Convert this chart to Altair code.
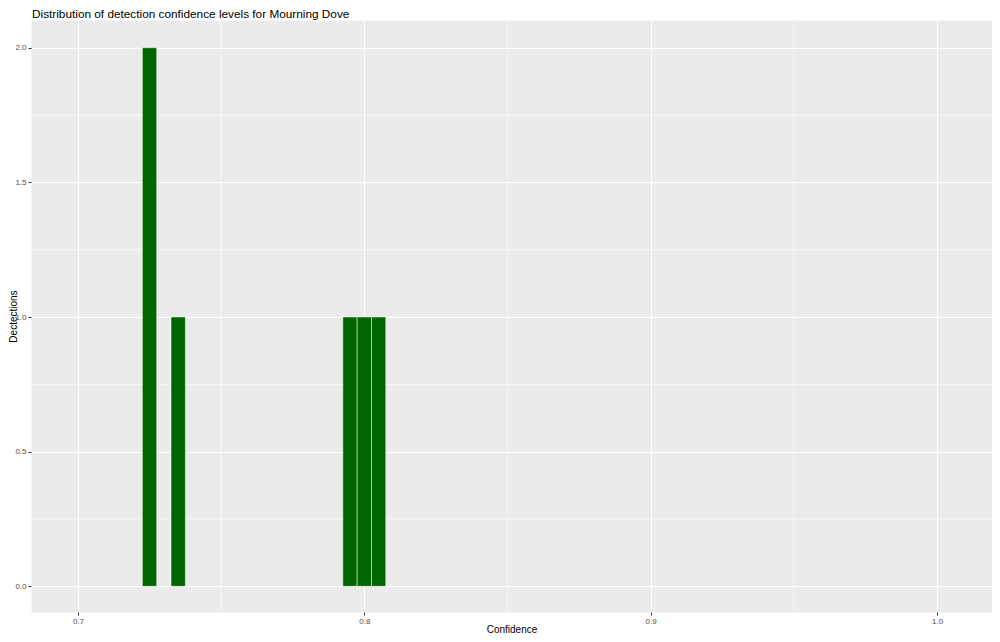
import altair as alt
import pandas as pd

# Histogram bins (center of bin) and counts
bin_centers = [0.725, 0.735, 0.795, 0.800, 0.805]
counts = [2, 1, 1, 1, 1]
binwidth = 0.005

x_major = [0.7, 0.8, 0.9, 1.0]
x_minor = [0.75, 0.85, 0.95]
y_major = [0.0, 0.5, 1.0, 1.5, 2.0]
y_minor = [0.25, 0.75, 1.25, 1.75]

x_domain = [0.6836, 1.0192]
y_domain = [-0.0954, 2.103]

bars = pd.DataFrame({
    "center": bin_centers,
    "count": counts,
})
bars["x0"] = bars["center"] - binwidth / 2
bars["x1"] = bars["center"] + binwidth / 2
bars["y0"] = 0

xs = alt.Scale(domain=x_domain, nice=False, zero=False)
ys = alt.Scale(domain=y_domain, nice=False, zero=False)

FONT = "Liberation Sans"

xminor_df = pd.DataFrame({"v": x_minor})
yminor_df = pd.DataFrame({"v": y_minor})

minor_x = alt.Chart(xminor_df).mark_rule(color="white", strokeWidth=0.55).encode(
    x=alt.X("v:Q", scale=xs)
)
minor_y = alt.Chart(yminor_df).mark_rule(color="white", strokeWidth=0.55).encode(
    y=alt.Y("v:Q", scale=ys)
)

axis_common = dict(
    format=".1f",
    grid=True,
    gridColor="white",
    gridWidth=1.07,
    domain=False,
    tickColor="#333333",
    tickSize=3,
    tickWidth=1,
    labelColor="#4D4D4D",
    labelFontSize=8,
    labelFont=FONT,
    labelPadding=2,
    titleFont=FONT,
    titleFontSize=10,
    titleFontWeight="normal",
    titleColor="black",
)

bar_layer = alt.Chart(bars).mark_rect(
    color="#006400", stroke="white", strokeWidth=0.5
).encode(
    x=alt.X(
        "x0:Q",
        scale=xs,
        axis=alt.Axis(title="Confidence", values=x_major,
                      titleY=20, titleBaseline="alphabetic", **axis_common),
    ),
    x2="x1:Q",
    y=alt.Y(
        "count:Q",
        scale=ys,
        axis=alt.Axis(title="Dectections", values=y_major,
                      titleX=-18, titleBaseline="middle", **axis_common),
    ),
    y2="y0:Q",
)

chart = alt.layer(minor_x, minor_y, bar_layer).properties(
    width=961,
    height=592,
    autosize=alt.AutoSizeParams(type="none"),
    padding={"left": 23, "top": 12, "right": 0, "bottom": 22},
    title=alt.TitleParams(
        text="Distribution of detection confidence levels for Mourning Dove",
        anchor="start",
        frame="group",
        dx=1,
        dy=3,
        offset=2,
        font=FONT,
        fontSize=11.8,
        fontWeight="normal",
        color="black",
    ),
).configure_view(fill="#EBEBEB", stroke="transparent")

chart.save("out.html", embed_options={"renderer": "svg", "actions": False})
